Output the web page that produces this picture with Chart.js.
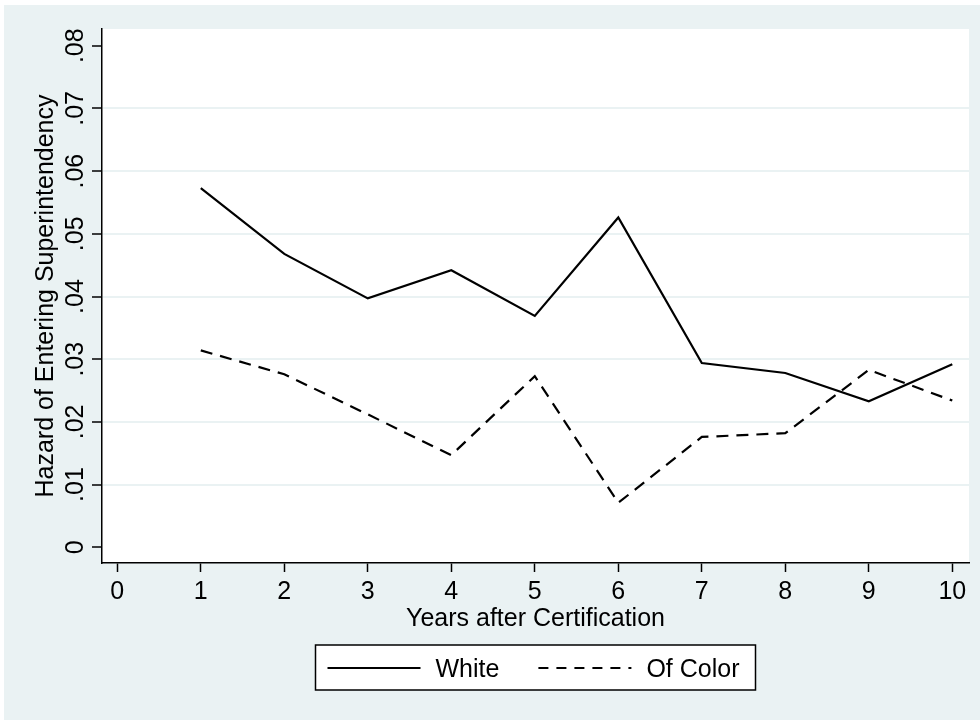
<!DOCTYPE html>
<html>
<head>
<meta charset="utf-8">
<script src="https://cdn.jsdelivr.net/npm/chart.js@4.4.1/dist/chart.umd.min.js"></script>
<style>
  html, body { margin: 0; padding: 0; background: #fff; }
</style>
</head>
<body>
<canvas id="hazardChart" width="980" height="721"></canvas>
<script>
// values
const years = [1, 2, 3, 4, 5, 6, 7, 8, 9, 10];
const whiteHazard = [0.0573, 0.0468, 0.0397, 0.0442, 0.0369, 0.0526, 0.0294, 0.0278, 0.0233, 0.0292];
const colorHazard = [0.0314, 0.0276, 0.0212, 0.0147, 0.0273, 0.0071, 0.0176, 0.0182, 0.0283, 0.0234];
const seriesNames = ['White', 'Of Color'];

const xTicks = [0, 1, 2, 3, 4, 5, 6, 7, 8, 9, 10];
const xTickLabels = ['0', '1', '2', '3', '4', '5', '6', '7', '8', '9', '10'];
const yTicks = [0, 0.01, 0.02, 0.03, 0.04, 0.05, 0.06, 0.07, 0.08];
const yTickLabels = ['0', '.01', '.02', '.03', '.04', '.05', '.06', '.07', '.08'];

const FONT = '"Liberation Sans", Arial, Helvetica, sans-serif';
const BG = '#EAF2F3';

const toPoints = (vals) => vals.map((v, i) => ({x: years[i], y: v}));

// graph region + white plot region
const backdrop = {
    id: 'backdrop',
    beforeDraw(chart) {
        const {ctx, chartArea: a} = chart;
        ctx.save();
        ctx.fillStyle = '#fff';
        ctx.fillRect(0, 0, chart.width, chart.height);
        ctx.fillStyle = BG;
        ctx.fillRect(4, 5, chart.width - 4, 715);
        ctx.fillStyle = '#fff';
        ctx.fillRect(a.left, a.top, a.right - a.left, a.bottom - a.top);
        ctx.restore();
    }
};

// rotated y tick labels (Stata style) and the boxed legend
const extras = {
    id: 'extras',
    afterDraw(chart) {
        const {ctx, chartArea: a} = chart;
        const yScale = chart.scales.y;
        ctx.save();
        ctx.fillStyle = '#000';
        ctx.font = '25px ' + FONT;
        ctx.textAlign = 'center';
        ctx.textBaseline = 'alphabetic';
        yTicks.forEach((v, i) => {
            ctx.save();
            ctx.translate(83, yScale.getPixelForValue(v));
            ctx.rotate(-Math.PI / 2);
            ctx.fillText(yTickLabels[i], 0, 0);
            ctx.restore();
        });

        const cx = (a.left + a.right) / 2;
        const w = 440, h = 45, top = 645;
        ctx.fillStyle = '#fff';
        ctx.fillRect(cx - w / 2, top, w, h);
        ctx.strokeStyle = '#000';
        ctx.lineWidth = 1.5;
        ctx.strokeRect(cx - w / 2, top, w, h);

        ctx.textAlign = 'left';
        ctx.textBaseline = 'middle';
        ctx.fillStyle = '#000';
        let x = cx - w / 2 + 12;
        chart.data.datasets.forEach((ds) => {
            ctx.setLineDash(ds.borderDash ? [10, 8] : []);
            ctx.lineWidth = 2;
            ctx.beginPath();
            ctx.moveTo(x, top + 23);
            ctx.lineTo(x + 93, top + 23);
            ctx.stroke();
            ctx.setLineDash([]);
            ctx.fillText(ds.label, x + 108, top + 25);
            x += 108 + ctx.measureText(ds.label).width + 39;
        });
        ctx.restore();
    }
};

new Chart(document.getElementById('hazardChart').getContext('2d'), {
    type: 'line',
    data: {
        datasets: [
            {
                label: seriesNames[0],
                data: toPoints(whiteHazard),
                borderColor: '#000',
                backgroundColor: 'transparent',
                borderWidth: 2.2,
                pointRadius: 0,
                tension: 0
            },
            {
                label: seriesNames[1],
                data: toPoints(colorHazard),
                borderColor: '#000',
                backgroundColor: 'transparent',
                borderWidth: 2.2,
                borderDash: [12, 8],
                pointRadius: 0,
                tension: 0
            }
        ]
    },
    options: {
        responsive: false,
        animation: false,
        devicePixelRatio: 1,
        layout: {padding: {top: 29, right: 11, bottom: 83, left: 4}},
        plugins: {legend: {display: false}, tooltip: {enabled: false}},
        scales: {
            x: {
                type: 'linear',
                min: -0.183,
                max: 10.2,
                afterBuildTicks: (s) => { s.ticks = xTicks.map(v => ({value: v})); },
                afterFit: (s) => { s.height = 75; },
                grid: {drawOnChartArea: false, drawTicks: true, tickLength: 9, tickColor: '#000', tickWidth: 1.5},
                border: {display: true, color: '#000', width: 1.5},
                ticks: {
                    autoSkip: false,
                    maxRotation: 0,
                    padding: 5,
                    color: '#000',
                    font: {family: FONT, size: 25},
                    callback: (v) => xTickLabels[xTicks.indexOf(v)]
                },
                title: {
                    display: true,
                    text: 'Years after Certification',
                    color: '#000',
                    font: {family: FONT, size: 25},
                    padding: {top: 0, bottom: 4}
                }
            },
            y: {
                type: 'linear',
                min: -0.002506,
                max: 0.08267,
                afterBuildTicks: (s) => { s.ticks = yTicks.map(v => ({value: v})); },
                afterFit: (s) => { s.width = 98; },
                grid: {
                    drawTicks: true,
                    tickLength: 10,
                    tickColor: '#000',
                    tickWidth: 1.5,
                    lineWidth: 2,
                    color: (c) => (c.tick && (c.tick.value === 0 || c.tick.value === 0.08)) ? 'rgba(0,0,0,0)' : BG
                },
                border: {display: true, color: '#000', width: 1.5},
                ticks: {display: false, autoSkip: false},
                title: {
                    display: true,
                    text: 'Hazard of Entering Superintendency',
                    color: '#000',
                    font: {family: FONT, size: 25},
                    padding: {top: 27, bottom: 0}
                }
            }
        }
    },
    plugins: [backdrop, extras]
});
</script>
</body>
</html>
